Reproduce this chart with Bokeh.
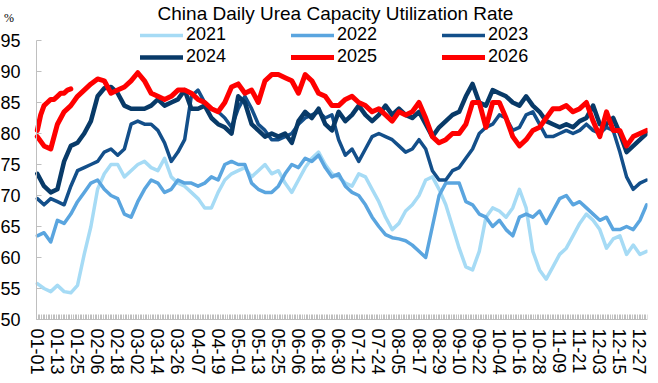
import pandas as pd
from bokeh.plotting import figure
from bokeh.models import Range1d, FixedTicker, Legend, LegendItem, Label
from bokeh.embed import file_html
from bokeh.resources import INLINE

# Category labels (one per day of year, MM-DD)
day_labels = pd.date_range("2021-01-01", "2021-12-31").strftime("%m-%d").tolist()
tick_days = list(range(0, 365, 12))
y_ticks = list(range(50, 96, 5))

# Values, every 4th day
sample_days = list(range(0, 365, 4))
sample_days_2026 = list(range(0, 21, 2))

y2021 = [55.8, 55, 54.5, 55.5, 54.5, 54.3, 55.5, 60.5, 65, 71,
         73.5, 75, 75, 73, 74, 75, 75.5, 74.5, 74, 76,
         73, 72, 71.5, 70.5, 69.5, 68, 68, 70.5, 72.5, 73.5,
         74, 74.5, 73, 74, 75, 73.5, 74, 72, 70.5, 72.5,
         74.5, 76, 77, 75, 73.5, 73, 72, 71.5, 73.5, 73,
         71, 69, 66.5, 64.5, 65.5, 67.5, 68.5, 70, 72.5, 73,
         71, 68.5, 65, 61.5, 58.5, 58, 61, 66.5, 68, 67.5,
         66.5, 68, 71, 68, 61, 58, 56.5, 58.5, 60.5, 61.5,
         63.5, 65.5, 67, 66, 64.5, 61.5, 63, 63.5, 60.5, 62,
         60.5, 61]
y2022 = [63.5, 64, 62.5, 66, 65.5, 67, 69, 70.5, 72, 72.5,
         71, 70, 69.5, 67, 66.5, 69, 71, 72.5, 72, 70.5,
         71, 72.5, 72, 72, 71.5, 72, 73, 72.5, 75, 75.5,
         75, 75, 72, 71, 70.5, 70.5, 71.5, 73.5, 75, 74.5,
         76, 75.5, 76.5, 74.5, 73, 73.5, 71.5, 70.5, 70, 68.5,
         66.5, 65, 63.7, 63.2, 63, 62.7, 62, 61, 60, 65,
         70, 72, 72, 72, 69, 68.5, 67, 66.5, 65, 66,
         64.5, 63.5, 66.5, 67, 66.5, 67.5, 65.5, 67.5, 69.5, 70,
         68.5, 69, 68, 67, 66, 66.5, 64.5, 64.5, 65, 64.5,
         66, 68.5]
y2023 = [69.5, 68.5, 69.5, 69, 68.5, 71.5, 74, 74.5, 75, 75.5,
         77, 77.5, 76.5, 77.5, 81.5, 82, 81.5, 81.5, 80.5, 78.5,
         75.5, 77, 79, 86, 87, 85, 84, 83.5, 82.5, 81,
         84, 86, 84, 81.5, 80.5, 79, 79, 79.5, 80, 81.5,
         82.5, 83, 83.5, 82.5, 83, 79, 76.5, 77.5, 75.5, 77.5,
         79.5, 80, 79.5, 79, 78, 77, 77.5, 79, 77.5, 74,
         72.5, 72.5, 74, 74.5, 76, 77.5, 80, 81, 81.5, 83,
         82.5, 80.5, 81, 83, 83.5, 81.5, 79.5, 79.5, 80, 80.5,
         80, 80.5, 81.5, 80.5, 80, 81, 80.5, 77, 73, 71,
         72, 72.5]
y2024 = [73.5, 71.5, 70.5, 71, 75.5, 78, 78.5, 80, 82, 86,
         87.3, 87.5, 86.5, 84.5, 84, 84, 84, 84.5, 85.5, 84.5,
         85, 85.5, 87, 84, 84, 84.5, 82.5, 81.5, 81, 80,
         86, 85, 81.5, 80.5, 79.5, 80, 79.5, 80, 78.5, 82,
         83.5, 82.5, 84, 81.5, 80.5, 83.5, 82, 83, 84.5, 83,
         82, 83, 84.5, 83, 84, 83, 82.5, 83.5, 81.5, 79.5,
         81, 82, 83, 83.5, 86, 88, 85, 84.5, 87, 86.5,
         86, 85, 84.5, 86, 84.5, 83.5, 82, 81.5, 81, 81.5,
         81, 82, 82.5, 84.5, 81.5, 81.5, 82.5, 80, 77, 78,
         79, 80]
y2025 = [79.5, 78, 77.5, 81.5, 83.5, 84.5, 86, 87, 88, 88.8,
         88.5, 86.5, 87, 87.5, 88.5, 89.8, 88.5, 86.5, 86, 85.5,
         86, 87, 87, 86.5, 85.5, 85, 84, 83.5, 85, 87.5,
         88, 86.5, 87, 85, 88.5, 89.5, 89.5, 89, 88.5, 86.5,
         89.5, 88.5, 86.5, 86, 84.5, 84.5, 85.5, 86, 85, 84.5,
         83.5, 84, 83, 82, 83.5, 83, 83.5, 85, 82.5, 79.5,
         78.5, 79, 80, 80, 81.5, 85, 85, 81, 85, 85,
         82.5, 79.5, 78, 79, 80.5, 81, 82.5, 84, 84, 84.5,
         83.5, 84, 85, 82, 79.5, 83.5, 80.5, 80.5, 78, 79.5,
         80, 80.5]
y2026 = [80.5, 83, 84.5, 85, 85.5, 85.5, 86, 86.5, 86.5, 87, 87.2]

series = [
    ("2021", sample_days, y2021, "#A6DBF5", 3.5),
    ("2022", sample_days, y2022, "#5AA5DF", 3.5),
    ("2023", sample_days, y2023, "#134F8A", 3.5),
    ("2024", sample_days, y2024, "#083A68", 4.5),
    ("2025", sample_days, y2025, "#FF0000", 5),
    ("2026", sample_days_2026, y2026, "#FF0000", 5),
]

FONT = "Liberation Sans"
GRAY = "#BFBFBF"

W, H = 650, 375
FRAME_R = 647          # right edge of plot frame (canvas px)
AX_X, TOP_Y, BOT_Y = 36, 40, 319   # axis position / 95 line / 50 line (canvas px)
x0, x1 = -0.5, 364.5
xscale = (FRAME_R - AX_X) / (x1 - x0)
yscale = (BOT_Y - TOP_Y) / (95 - 50)

p = figure(width=W, height=H, output_backend="svg", toolbar_location=None,
           x_range=Range1d(x0 - AX_X / xscale, x1),
           y_range=Range1d(50 - (H - BOT_Y) / yscale, 95 + TOP_Y / yscale),
           min_border_left=0, min_border_right=W - FRAME_R, min_border_top=0,
           min_border_bottom=0)
p.outline_line_color = None
p.grid.visible = False
p.background_fill_color = "white"
p.border_fill_color = "white"

rends = {}
for name, xs, ys, color, w in series:
    rends[name] = p.line(xs, ys, line_color=color, line_width=w,
                         line_join="round", line_cap="round")

# x axis, pinned at y = 50
xa = p.xaxis[0]
xa.fixed_location = 50
xa.bounds = (x0, x1)
xa.ticker = FixedTicker(ticks=tick_days, minor_ticks=[i - 0.5 for i in range(366)])
xa.major_label_overrides = {d: day_labels[d] for d in tick_days}
xa.major_label_orientation = "vertical"
xa.major_label_text_font = FONT
xa.major_label_text_font_size = "18px"
xa.major_label_text_color = "#000000"
xa.major_label_standoff = 9
xa.major_tick_in = 0
xa.major_tick_out = 0
xa.minor_tick_in = 5
xa.minor_tick_out = 0
xa.minor_tick_line_color = GRAY
xa.axis_line_color = GRAY

# y axis, pinned at the first category edge
ya = p.yaxis[0]
ya.fixed_location = x0
ya.bounds = (50, 95)
ya.ticker = FixedTicker(ticks=y_ticks, minor_ticks=[])
ya.major_label_text_font = FONT
ya.major_label_text_font_size = "18px"
ya.major_label_text_color = "#000000"
ya.major_label_standoff = 16
ya.major_tick_in = 5
ya.major_tick_out = 0
ya.major_tick_line_color = GRAY
ya.axis_line_color = GRAY

# title and unit (screen px from the frame's bottom-left = canvas bottom-left)
p.add_layout(Label(x=335, y=H - 13, x_units="screen", y_units="screen",
                   text="China Daily Urea Capacity Utilization Rate",
                   text_align="center", text_baseline="middle",
                   text_font=FONT, text_font_size="19px", text_color="#000000"))
p.add_layout(Label(x=8.5, y=H - 17, x_units="screen", y_units="screen", text="%",
                   text_align="center", text_baseline="middle",
                   text_font="Liberation Serif", text_font_size="12px",
                   text_color="#000000"))

def make_legend(names, loc):
    lg = Legend(items=[LegendItem(label=n, renderers=[rends[n]]) for n in names],
                orientation="horizontal", location=loc, padding=0, spacing=65,
                glyph_width=43, glyph_height=20, label_width=40, label_height=20,
                label_standoff=3, label_text_font=FONT, label_text_font_size="18px",
                label_text_color="#000000", border_line_alpha=0,
                background_fill_alpha=0, margin=0)
    p.add_layout(lg)

make_legend(["2021", "2022", "2023"], (140, H - 33 - 12))
make_legend(["2024", "2025", "2026"], (140, H - 55 - 12))

open("out.html", "w").write(file_html(p, INLINE))
